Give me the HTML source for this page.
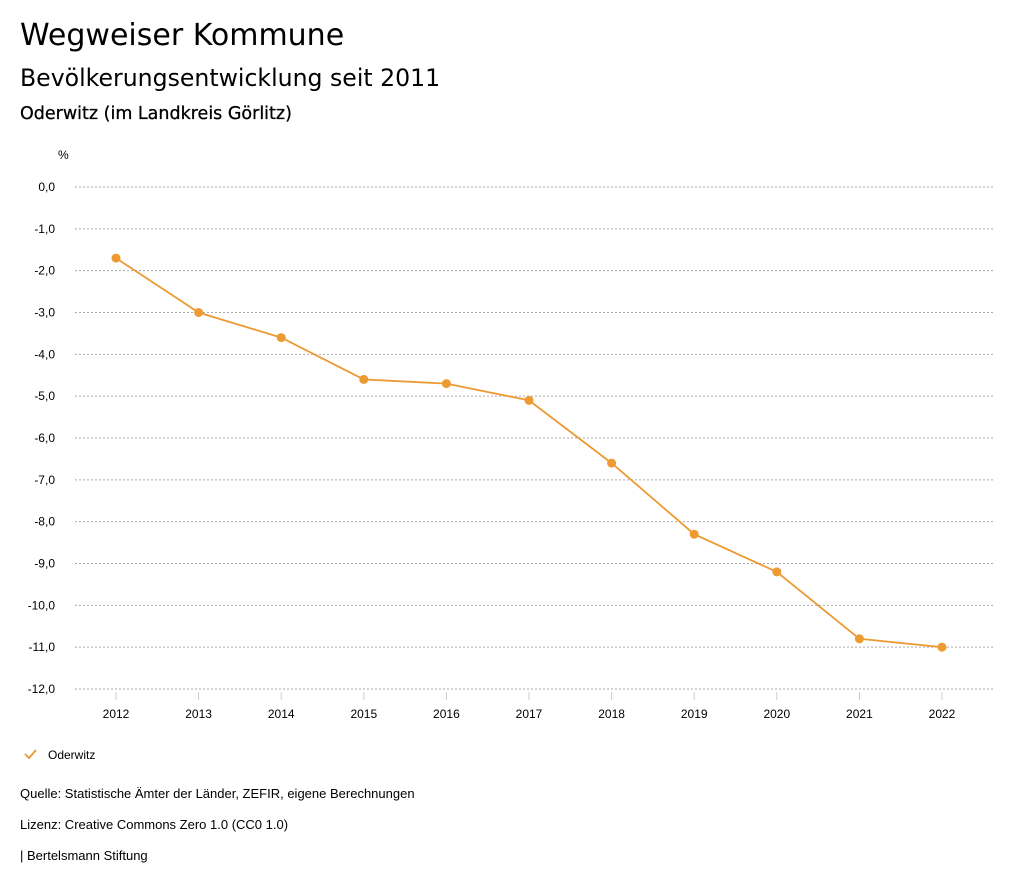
<!DOCTYPE html>
<html><head><meta charset="utf-8">
<style>
body{margin:0;background:#fff;width:1024px;height:888px;overflow:hidden;font-family:"Liberation Sans",sans-serif;color:#000}
.t{position:absolute;left:20px;white-space:nowrap}
.d{font-family:"DejaVu Sans",sans-serif}
</style></head><body>
<div class="t d" style="top:18px;font-size:30px">Wegweiser Kommune</div>
<div class="t d" style="top:64px;font-size:23.6px">Bevölkerungsentwicklung seit 2011</div>
<div class="t d" style="top:104px;font-size:17.5px;-webkit-text-stroke:0.3px #000">Oderwitz (im Landkreis Görlitz)</div>
<svg id="chart" width="1024" height="888" style="position:absolute;left:0;top:0" font-family="Liberation Sans, sans-serif"></svg>
<div class="t" style="top:786px;font-size:13px">Quelle: Statistische Ämter der Länder, ZEFIR, eigene Berechnungen</div>
<div class="t" style="top:817px;font-size:13px">Lizenz: Creative Commons Zero 1.0 (CC0 1.0)</div>
<div class="t" style="top:848px;font-size:13px">| Bertelsmann Stiftung</div>
<script>
const years=[2012,2013,2014,2015,2016,2017,2018,2019,2020,2021,2022];
const values=[-1.7,-3.0,-3.6,-4.6,-4.7,-5.1,-6.6,-8.3,-9.2,-10.8,-11.0];
const yTicks=[0,-1,-2,-3,-4,-5,-6,-7,-8,-9,-10,-11,-12];
const NS="http://www.w3.org/2000/svg";
const svg=document.getElementById('chart');
const x=i=>116+i*(942-116)/(years.length-1);
const y=v=>187+(-v)*(689-187)/12;
function mk(t,a,p){const e=document.createElementNS(NS,t);for(const k in a)e.setAttribute(k,a[k]);(p||svg).appendChild(e);return e;}
const u=mk('text',{x:58,y:159,'font-size':12,fill:'#000'});u.textContent='%';


yTicks.forEach(v=>{
 const g=mk('line',{x1:75,x2:993,y1:y(v),y2:y(v),stroke:'#aaa','stroke-dasharray':'2,2','stroke-width':1});
 
 
 const t=mk('text',{x:55,y:y(v)+4,'font-size':12,'text-anchor':'end',fill:'#000'});
 t.textContent=v.toFixed(1).replace('.',',').replace('-0,0','0,0');
 
 
});
years.forEach((yr,i)=>{
 const l=mk('line',{x1:x(i),x2:x(i),y1:692,y2:700,stroke:'#ccc'});
 
 
 const t=mk('text',{x:x(i),y:718,'font-size':12,'text-anchor':'middle',fill:'#000'});
 t.textContent=yr;
 
 
});
const p=mk('polyline',{points:values.map((v,i)=>x(i)+','+y(v)).join(' '),fill:'none',stroke:'#ee9a33','stroke-width':1.8});


values.forEach((v,i)=>{
 const c=mk('circle',{cx:x(i),cy:y(v),r:4.5,fill:'#ee9a33'});
 
 
});
const lg=mk('g',{});


mk('polyline',{points:'25,754 29,758 36,750',fill:'none',stroke:'#ee9a33','stroke-width':1.8},lg);
const lt=mk('text',{x:48,y:759,'font-size':12,fill:'#000'},lg);lt.textContent='Oderwitz';
</script>
</body></html>
